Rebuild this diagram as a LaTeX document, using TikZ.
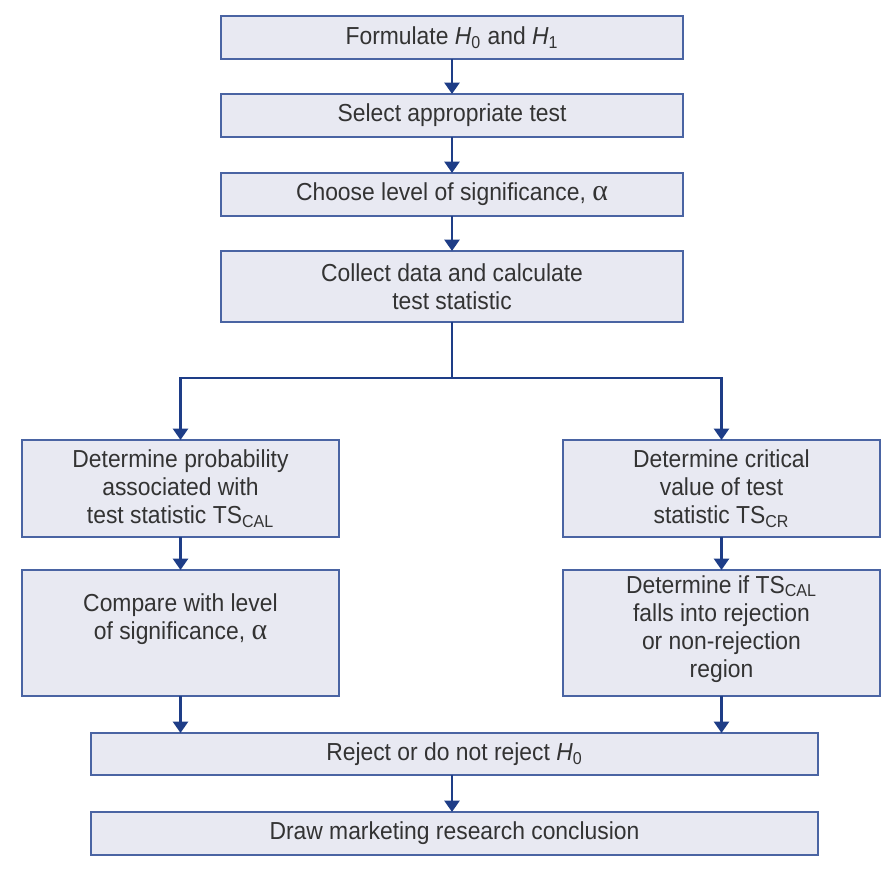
\documentclass[tikz,border=0pt]{standalone}
\usepackage{fontspec}
\setmainfont[FakeStretch=0.93]{Liberation Sans}
\newfontfamily\greekfont{Liberation Serif}
\usetikzlibrary{arrows.meta}

\definecolor{boxfill}{HTML}{E8E9F2}
\definecolor{boxline}{HTML}{4A64A3}
\definecolor{flowblue}{HTML}{1E3D87}
\definecolor{textgray}{HTML}{333333}
\newcommand{\alphasym}{{\greekfont\fontsize{17}{16}\selectfont α}}

\begin{document}
\begin{tikzpicture}[x=0.02cm, y=-0.02cm,
    stage/.style={draw=boxline, fill=boxfill, line width=1.1pt, outer sep=0pt,
        inner sep=2pt, align=center, text=textgray,
        font=\fontsize{14}{16}\selectfont},
    wide/.style={stage, minimum width=9.24cm},
    side/.style={stage, minimum width=6.34cm, minimum height=1.94cm},
    link/.style={draw=flowblue, line width=1.7pt},
    flow/.style={link, -{Triangle[width=8.5pt,length=6.5pt]}}]
    \useasboundingbox (0,0) rectangle (894,872);

    % main column
    \node[wide, minimum height=0.86cm] (form) at (452,37.5) {Formulate \textit{H}\textsubscript{0} and \textit{H}\textsubscript{1}};
    \node[wide, minimum height=0.86cm] (select) at (452,115.5) {Select appropriate test};
    \node[wide, minimum height=0.86cm] (choose) at (452,194.5) {Choose level of significance, \alphasym};
    \node[wide, minimum height=1.42cm] (collect) at (452,286.5) {Collect data and calculate\\test statistic};

    % the two branches
    \node[side] (prob) at (180.5,488.5) {Determine probability\\associated with\\test statistic TS\textsubscript{CAL}};
    \node[side, minimum height=2.52cm, text depth=19pt] (comp) at (180.5,633) {Compare with level\\of significance, \alphasym};
    \node[side] (crit) at (721.5,488.5) {Determine critical\\value of test\\statistic TS\textsubscript{CR}};
    \node[side, minimum height=2.52cm, text depth=7.5pt] (regn) at (721.5,633) {Determine if TS\textsubscript{CAL}\\falls into rejection\\or non-rejection\\region};

    % decision
    \node[stage, minimum width=14.54cm, minimum height=0.84cm] (reject) at (454.5,754) {Reject or do not reject \textit{H}\textsubscript{0}};
    \node[stage, minimum width=14.54cm, minimum height=0.86cm] (concl) at (454.5,833.5) {Draw marketing research conclusion};

    \coordinate (split) at (452,378);

    \draw[flow] (form) -- (select);
    \draw[flow] (select) -- (choose);
    \draw[flow] (choose) -- (collect);
    \draw[link] (collect) -- (split);
    \draw[flow] (split) -| (prob);
    \draw[flow] (split) -| (crit);
    \draw[flow] (prob) -- (comp);
    \draw[flow] (crit) -- (regn);
    \draw[flow] (comp) -- (comp |- reject.north);
    \draw[flow] (regn) -- (regn |- reject.north);
    \draw[flow] (reject.south -| form) -- (concl.north -| form);
\end{tikzpicture}
\end{document}
